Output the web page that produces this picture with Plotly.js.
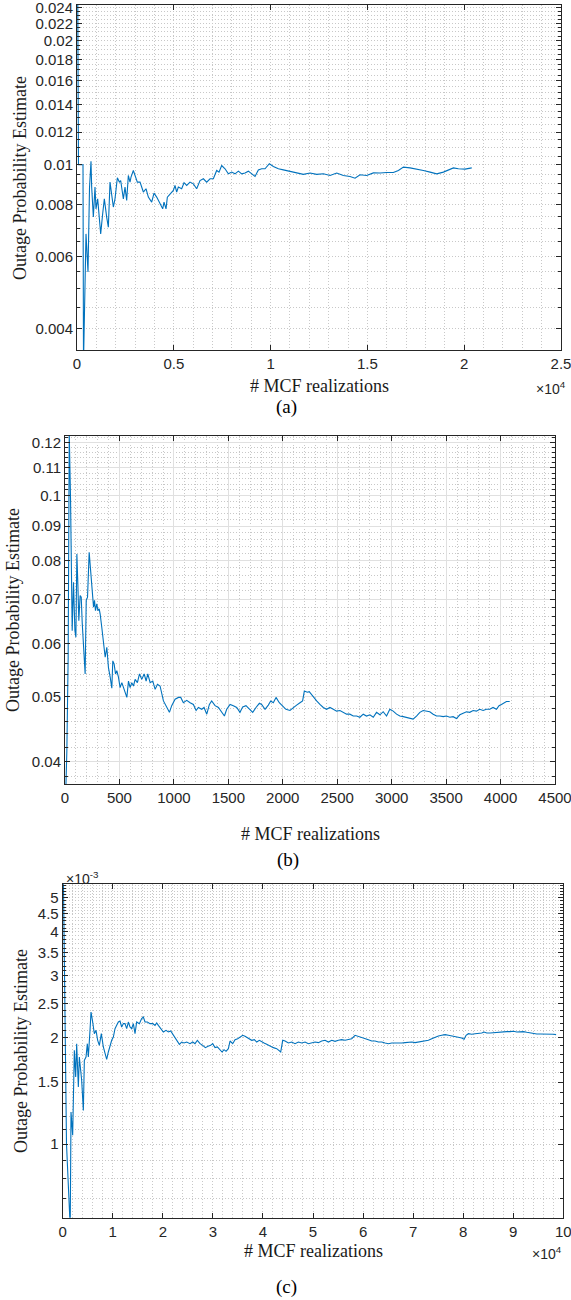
<!DOCTYPE html>
<html>
<head>
<meta charset="utf-8">
<script src="https://cdn.plot.ly/plotly-3.0.1.min.js"></script>
<style>html,body{margin:0;padding:0;background:#fff}#chart{width:571px;height:1300px}</style>
</head>
<body>
<div id="chart"></div>
<script>
// ---------- Panel (a): realizations vs outage probability ----------
const aX = [10, 77, 310, 336, 465, 568, 646, 723, 758, 844, 930, 982, 1068, 1223, 1326, 1412, 1533, 1619, 1705, 1791, 1877, 1963, 2084, 2187, 2256, 2394, 2480, 2566, 2652, 2738, 2790, 2910, 2997, 3117, 3255, 3427, 3565, 3685, 3858, 3978, 4116, 4288, 4426, 4495, 4598, 4667, 4805, 4977, 5063, 5149, 5235, 5407, 5528, 5666, 5838, 6010, 6182, 6354, 6527, 6699, 6871, 7043, 7215, 7336, 7474, 7646, 7818, 7990, 8163, 8335, 8507, 8679, 8851, 9024, 9196, 9368, 9540, 9712, 9936, 10143, 10401, 10659, 11004, 11348, 11693, 12037, 12381, 12726, 13070, 13415, 13759, 14103, 14362, 14620, 14964, 15309, 15653, 15998, 16342, 16600, 16859, 17203, 17547, 17892, 18236, 18581, 18925, 19183, 19442, 19700, 20045, 20389];
const aP = [0.05, 0.0100, 0.0100, 0.0033, 0.0068, 0.0055, 0.0088, 0.0102, 0.00883, 0.00747, 0.00883, 0.00782, 0.00827, 0.00680, 0.00761, 0.00827, 0.00747, 0.00706, 0.00908, 0.00835, 0.00790, 0.00827, 0.00930, 0.00908, 0.00916, 0.00827, 0.00883, 0.00820, 0.00942, 0.00908, 0.00934, 0.00969, 0.00942, 0.00908, 0.00908, 0.00859, 0.00875, 0.00835, 0.00812, 0.00854, 0.00835, 0.00804, 0.00782, 0.00812, 0.00782, 0.00835, 0.00851, 0.00867, 0.00891, 0.00859, 0.00883, 0.00875, 0.00905, 0.00891, 0.00908, 0.00899, 0.00875, 0.00916, 0.00925, 0.00908, 0.00925, 0.00925, 0.00969, 0.00960, 0.00996, 0.00978, 0.00951, 0.00960, 0.00951, 0.00965, 0.00951, 0.00955, 0.00965, 0.00951, 0.00937, 0.00972, 0.00978, 0.00978, 0.01006, 0.00991, 0.00978, 0.00972, 0.00965, 0.00956, 0.00948, 0.00955, 0.00948, 0.00951, 0.00942, 0.00955, 0.00942, 0.00937, 0.00928, 0.00946, 0.00942, 0.00956, 0.00955, 0.00958, 0.00958, 0.00969, 0.00987, 0.00983, 0.00978, 0.00969, 0.00960, 0.00951, 0.00960, 0.00972, 0.00983, 0.00978, 0.00976, 0.00983];
const aYTicks = [0.004, 0.006, 0.008, 0.01, 0.012, 0.014, 0.016, 0.018, 0.02, 0.022, 0.024];
const aYTickText = ['0.004', '0.006', '0.008', '0.01', '0.012', '0.014', '0.016', '0.018', '0.02', '0.022', '0.024'];
const aXTicks = [0, 5000, 10000, 15000, 20000, 25000];
const aXTickText = ['0', '0.5', '1', '1.5', '2', '2.5'];

// ---------- Panel (b) ----------
const bX = [5, 17, 29, 39, 51, 60, 66, 78, 91, 100, 109, 118, 127, 139, 149, 158, 170, 185, 195, 207, 222, 231, 240, 253, 262, 271, 280, 292, 302, 314, 323, 338, 354, 369, 384, 399, 415, 430, 439, 451, 464, 476, 491, 506, 522, 537, 552, 568, 583, 598, 613, 629, 644, 665, 684, 705, 727, 745, 760, 782, 806, 828, 849, 873, 904, 935, 959, 980, 1011, 1042, 1063, 1087, 1118, 1149, 1179, 1204, 1225, 1256, 1277, 1302, 1326, 1347, 1378, 1409, 1439, 1464, 1485, 1516, 1546, 1577, 1607, 1632, 1662, 1693, 1724, 1754, 1785, 1806, 1837, 1867, 1889, 1913, 1938, 1968, 1999, 2029, 2066, 2097, 2127, 2158, 2182, 2198, 2225, 2243, 2280, 2311, 2341, 2372, 2402, 2433, 2464, 2494, 2525, 2555, 2586, 2616, 2647, 2678, 2708, 2739, 2769, 2800, 2831, 2861, 2892, 2922, 2953, 2983, 3014, 3045, 3075, 3106, 3136, 3167, 3197, 3228, 3259, 3289, 3320, 3350, 3381, 3412, 3442, 3473, 3503, 3534, 3564, 3595, 3626, 3656, 3687, 3717, 3748, 3778, 3809, 3840, 3870, 3901, 3931, 3962, 3986, 4008, 4038, 4054, 4084];
const bP = [0.0350, 0.0415, 0.0573, 0.1239, 0.0985, 0.0800, 0.0628, 0.0742, 0.0628, 0.0614, 0.0818, 0.0738, 0.0650, 0.0709, 0.0705, 0.0646, 0.0593, 0.0541, 0.0697, 0.0705, 0.0823, 0.0791, 0.0755, 0.0705, 0.0681, 0.0697, 0.0673, 0.0689, 0.0673, 0.0677, 0.0665, 0.0635, 0.0607, 0.0573, 0.0593, 0.0553, 0.0535, 0.0515, 0.0566, 0.0560, 0.0541, 0.0547, 0.0535, 0.0516, 0.0525, 0.0516, 0.0508, 0.0499, 0.0528, 0.0516, 0.0525, 0.0519, 0.0531, 0.0525, 0.0541, 0.0531, 0.0541, 0.0528, 0.0541, 0.0525, 0.0528, 0.0513, 0.0522, 0.0519, 0.0493, 0.0482, 0.0474, 0.0485, 0.0496, 0.0499, 0.0499, 0.0490, 0.0494, 0.0490, 0.0487, 0.0477, 0.0482, 0.0479, 0.0482, 0.0471, 0.0487, 0.0493, 0.0485, 0.0482, 0.0474, 0.0468, 0.0479, 0.0487, 0.0485, 0.0482, 0.0474, 0.0483, 0.0485, 0.0479, 0.0474, 0.0482, 0.0489, 0.0487, 0.0479, 0.0486, 0.0493, 0.0490, 0.0499, 0.0490, 0.0485, 0.0479, 0.0477, 0.0482, 0.0486, 0.0490, 0.0493, 0.0510, 0.0508, 0.0509, 0.0499, 0.0493, 0.0487, 0.0482, 0.0479, 0.0482, 0.0479, 0.0476, 0.0477, 0.0474, 0.0471, 0.0471, 0.0468, 0.0468, 0.0466, 0.0471, 0.0468, 0.0470, 0.0466, 0.0474, 0.0470, 0.0475, 0.0468, 0.0479, 0.0476, 0.0471, 0.0468, 0.0467, 0.0466, 0.0464, 0.0463, 0.0468, 0.0474, 0.0477, 0.0476, 0.0475, 0.0471, 0.0468, 0.0468, 0.0467, 0.0468, 0.0466, 0.0467, 0.0464, 0.0470, 0.0472, 0.0475, 0.0474, 0.0477, 0.0476, 0.0479, 0.0477, 0.0479, 0.0479, 0.0482, 0.0479, 0.0485, 0.0487, 0.0490, 0.0492, 0.0492];
const bYTicks = [0.04, 0.05, 0.06, 0.07, 0.08, 0.09, 0.1, 0.11, 0.12];
const bYTickText = ['0.04', '0.05', '0.06', '0.07', '0.08', '0.09', '0.1', '0.11', '0.12'];
const bXTicks = [0, 500, 1000, 1500, 2000, 2500, 3000, 3500, 4000, 4500];
const bXTickText = ['0', '500', '1000', '1500', '2000', '2500', '3000', '3500', '4000', '4500'];

// ---------- Panel (c): values in units of 1e-3 ----------
const cX = [120, 460, 760, 1500, 1660, 1992, 2125, 2325, 2591, 2791, 3124, 3324, 3790, 4123, 4323, 4656, 4922, 5122, 5455, 5655, 5988, 6321, 6654, 6987, 7320, 7719, 8119, 8452, 8785, 9118, 9451, 9784, 10117, 10450, 10783, 11116, 11449, 11782, 12115, 12448, 12781, 13114, 13447, 13780, 14113, 14446, 14779, 15312, 15778, 16111, 16444, 16910, 17443, 17976, 18442, 18775, 19108, 19574, 20107, 20640, 21106, 21573, 22105, 22771, 23304, 23770, 24236, 24769, 25435, 25968, 26434, 26900, 27433, 27966, 28499, 29031, 29564, 29964, 30430, 30896, 31429, 31829, 32228, 32628, 33094, 33427, 33960, 34426, 34959, 35425, 35958, 36424, 37090, 37756, 38289, 38755, 39288, 39754, 40220, 40753, 41419, 42085, 42751, 43284, 43550, 43950, 44416, 45082, 45748, 46414, 47080, 47746, 48412, 49078, 49744, 50410, 51076, 51742, 52408, 53074, 53740, 54406, 55072, 55738, 56404, 57070, 57736, 58402, 59068, 59734, 60400, 61066, 61732, 62398, 63064, 63730, 64396, 65062, 65728, 66394, 67060, 67726, 68392, 69058, 69724, 70390, 71056, 71722, 72388, 73054, 73720, 74386, 75052, 75718, 76384, 77050, 77716, 78382, 79048, 79714, 80180, 80580, 81046, 81712, 82378, 83044, 83710, 84176, 84709, 85375, 86041, 86707, 87373, 88039, 88705, 89371, 90037, 90703, 91369, 92035, 92701, 93367, 94033, 94699, 95365, 96031, 96697, 97363, 98029, 98562];
const cPe3 = [6.0, 2.0, 1.0, 0.58, 1.233, 1.059, 1.584, 1.845, 1.550, 1.927, 1.452, 1.766, 1.517, 1.246, 1.728, 1.766, 1.927, 1.766, 2.103, 2.370, 2.220, 2.057, 2.103, 1.970, 1.906, 2.057, 1.886, 1.805, 1.740, 1.825, 1.906, 1.970, 2.013, 2.126, 2.172, 2.220, 2.234, 2.149, 2.197, 2.197, 2.126, 2.220, 2.149, 2.126, 2.197, 2.057, 2.220, 2.197, 2.270, 2.294, 2.220, 2.220, 2.197, 2.197, 2.172, 2.206, 2.172, 2.126, 2.080, 2.103, 2.080, 2.094, 2.035, 1.970, 1.919, 1.948, 1.936, 1.948, 1.927, 1.948, 1.927, 1.970, 1.927, 1.906, 1.878, 1.894, 1.906, 1.927, 1.878, 1.886, 1.853, 1.825, 1.853, 1.833, 1.865, 1.961, 1.927, 1.978, 1.991, 2.013, 2.035, 2.022, 1.991, 1.970, 1.978, 1.948, 1.970, 1.948, 1.936, 1.919, 1.894, 1.878, 1.865, 1.837, 1.825, 1.970, 1.961, 1.936, 1.948, 1.927, 1.948, 1.936, 1.948, 1.927, 1.936, 1.948, 1.940, 1.961, 1.970, 1.948, 1.970, 1.957, 1.970, 1.978, 1.970, 1.978, 1.991, 2.035, 2.022, 2.013, 2.000, 1.978, 1.961, 1.961, 1.948, 1.948, 1.936, 1.927, 1.936, 1.936, 1.927, 1.936, 1.940, 1.948, 1.948, 1.940, 1.948, 1.957, 1.961, 1.970, 1.991, 2.013, 2.026, 2.035, 2.044, 2.035, 2.026, 2.022, 2.013, 2.000, 1.983, 2.035, 2.057, 2.049, 2.057, 2.057, 2.066, 2.080, 2.066, 2.066, 2.071, 2.071, 2.076, 2.076, 2.085, 2.085, 2.089, 2.080, 2.085, 2.085, 2.076, 2.066, 2.057, 2.053, 2.053, 2.053, 2.053, 2.057, 2.049, 2.044];
const cYTicks = [1, 1.5, 2, 2.5, 3, 3.5, 4, 4.5, 5];
const cYTickText = ['1', '1.5', '2', '2.5', '3', '3.5', '4', '4.5', '5'];
const cXTicks = [0, 10000, 20000, 30000, 40000, 50000, 60000, 70000, 80000, 90000, 100000];
const cXTickText = ['0', '1', '2', '3', '4', '5', '6', '7', '8', '9', '10'];

const xTitle = '# MCF realizations';
const yTitle = 'Outage Probability Estimate';
const captions = ['(a)', '(b)', '(c)'];

// ---------- layout helpers ----------
const W = 571, H = 1300;
const fx = p => p / W;
const fy = p => 1 - p / H;
function steps(k0, k1, step, skipEvery) {
  const out = [];
  for (let k = k0; k <= k1; k++) { if (k % skipEvery !== 0) out.push(+(k * step).toPrecision(6)); }
  return out;
}
const LINE = '#0072BD';
const AX = '#262626';
const tickFont = {family: 'Liberation Sans, Arial, Helvetica, sans-serif', size: 15, color: AX};
const serif = 'Liberation Serif, Times New Roman, Times, serif';
const DOT = '1px,2px';

function xAxis(dom, rng, tv, tt, minorVals, solidMajor) {
  return {
    domain: dom, range: rng, tickmode: 'array', tickvals: tv, ticktext: tt,
    ticks: 'inside', ticklen: 5, tickwidth: 1, tickcolor: AX, ticklabeloverflow: 'allow',
    showline: true, linecolor: AX, linewidth: 1, mirror: 'ticks',
    showgrid: true, gridcolor: solidMajor ? '#e0e0e0' : '#c8c8c8', griddash: solidMajor ? 'solid' : DOT, gridwidth: 1,
    zeroline: false, tickfont: tickFont, fixedrange: true,
    minor: {tickmode: 'array', tickvals: minorVals, ticks: '', showgrid: true, gridcolor: '#c8c8c8', griddash: DOT, gridwidth: 1}
  };
}
function yAxis(dom, rng, tv, tt, minorVals, solidMajor) {
  return {
    type: 'log', domain: dom, range: rng, tickmode: 'array', tickvals: tv, ticktext: tt,
    ticks: 'inside', ticklen: 5, tickwidth: 1, tickcolor: AX, ticklabeloverflow: 'allow',
    showline: true, linecolor: AX, linewidth: 1, mirror: 'ticks',
    showgrid: true, gridcolor: solidMajor ? '#e0e0e0' : '#c8c8c8', griddash: solidMajor ? 'solid' : DOT, gridwidth: 1,
    zeroline: false, tickfont: tickFont, fixedrange: true,
    minor: {tickmode: 'array', tickvals: minorVals, ticks: 'inside', ticklen: 3, tickcolor: AX, showgrid: true, gridcolor: '#c8c8c8', griddash: DOT, gridwidth: 1}
  };
}

const traces = [
  {x: aX, y: aP, xaxis: 'x', yaxis: 'y', type: 'scatter', mode: 'lines', line: {color: LINE, width: 1.1}, hoverinfo: 'skip'},
  {x: bX, y: bP, xaxis: 'x2', yaxis: 'y2', type: 'scatter', mode: 'lines', line: {color: LINE, width: 1.1}, hoverinfo: 'skip'},
  {x: cX, y: cPe3, xaxis: 'x3', yaxis: 'y3', type: 'scatter', mode: 'lines', line: {color: LINE, width: 1.1}, hoverinfo: 'skip'}
];

const ann = (text, x, y, opts) => Object.assign({text, x: fx(x), y: fy(y), xref: 'paper', yref: 'paper', showarrow: false,
  xanchor: 'center', yanchor: 'middle', font: {family: serif, size: 18, color: '#1a1a1a'}}, opts || {});
const smallFont = {family: tickFont.family, size: 14, color: AX};

const layout = {
  width: W, height: H, margin: {l: 0, r: 0, t: 0, b: 0},
  paper_bgcolor: '#fff', plot_bgcolor: '#fff', showlegend: false,
  xaxis:  Object.assign(xAxis([fx(77), fx(561)], [0, 25000], aXTicks, aXTickText, steps(1, 24, 1000, 5), false), {anchor: 'y'}),
  yaxis:  Object.assign(yAxis([fy(350), fy(5)], [Math.log10(0.003557), Math.log10(0.0244)], aYTicks, aYTickText, steps(9, 48, 0.0005, 4), false), {anchor: 'x'}),
  xaxis2: Object.assign(xAxis([fx(65), fx(555)], [0, 4500], bXTicks, bXTickText, steps(1, 44, 100, 5), true), {anchor: 'y2'}),
  yaxis2: Object.assign(yAxis([fy(784), fy(436)], [Math.log10(0.03703), Math.log10(0.1228)], bYTicks, bYTickText, steps(19, 61, 0.002, 5), true), {anchor: 'x2'}),
  xaxis3: Object.assign(xAxis([fx(62.7), fx(563.3)], [0, 100000], cXTicks, cXTickText, steps(1, 49, 2000, 5), false), {anchor: 'y3'}),
  yaxis3: Object.assign(yAxis([fy(1217.7), fy(884.3)], [Math.log10(0.618), Math.log10(5.46)], cYTicks, cYTickText, steps(7, 54, 0.1, 5), false), {anchor: 'x3'}),
  annotations: [
    ann(yTitle, 20, 178, {textangle: -90}),
    ann(yTitle, 13, 610, {textangle: -90}),
    ann(yTitle, 21, 1051, {textangle: -90}),
    ann(xTitle, 319, 386),
    ann(xTitle, 310, 834),
    ann(xTitle, 313, 1251),
    ann('×10<sup>4</sup>', 568, 388, {xanchor: 'right', font: smallFont}),
    ann('×10<sup>4</sup>', 564, 1253, {xanchor: 'right', font: smallFont}),
    ann('×10<sup>-3</sup>', 64, 878, {xanchor: 'left', font: smallFont}),
    ann(captions[0], 286, 407, {font: {family: serif, size: 19, color: '#000'}}),
    ann(captions[1], 288, 860, {font: {family: serif, size: 19, color: '#000'}}),
    ann(captions[2], 286, 1287, {font: {family: serif, size: 19, color: '#000'}})
  ]
};

Plotly.newPlot('chart', traces, layout, {displayModeBar: false, staticPlot: true});
</script>
</body>
</html>
